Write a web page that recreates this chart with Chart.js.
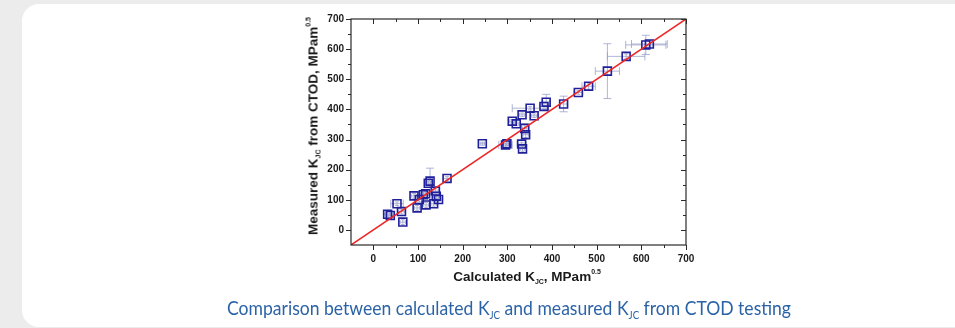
<!DOCTYPE html>
<html>
<head>
<meta charset="utf-8">
<script src="https://cdn.jsdelivr.net/npm/chart.js@4.4.1/dist/chart.umd.min.js"></script>
<style>
  html, body { margin: 0; padding: 0; }
  body { width: 955px; height: 328px; background: #ececec; position: relative; overflow: hidden; font-family: "Liberation Sans", Arial, sans-serif; }
  #card { position: absolute; left: 22px; top: 4px; width: 960px; height: 323px; background: #ffffff; border-radius: 17px; }
  #c { position: absolute; left: 0; top: 0; }
  .axt { position: absolute; font-weight: bold; font-size: 13.5px; color: #1a1a1a; white-space: nowrap; line-height: 1; }
  .axt sub { font-size: 7px; vertical-align: -3px; }
  .axt sup { font-size: 7px; vertical-align: 7px; }
  #ytitle { left: 313px; top: 126px; transform: translate(-50%, -50%) rotate(-90deg); }
  #xtitle { left: 527px; top: 276px; transform: translate(-50%, -50%); }
  #caption { position: absolute; left: 509px; top: 296px; font-family: Lato, "Liberation Sans", sans-serif; font-size: 20px; color: #2b63a6; white-space: nowrap; line-height: 22px; transform-origin: 0 0; }
  #caption sub { font-size: 11px; vertical-align: -4px; }
</style>
</head>
<body>
<div id="card"></div>
<canvas id="c" width="955" height="328"></canvas>
<div class="axt" id="ytitle">Measured K<sub>JC</sub> from CTOD, MPam<sup>0.5</sup></div>
<div class="axt" id="xtitle">Calculated K<sub>JC</sub>, MPam<sup>0.5</sup></div>
<div id="caption">Comparison between calculated K<sub>JC</sub> and measured K<sub>JC</sub> from CTOD testing</div>
<script>
// ---- data ----
const calculatedK = [32, 38, 53, 63, 66, 91, 98, 103, 112, 117, 118, 123, 127, 135, 139, 141, 146, 165,
                     244, 296, 299, 332, 334, 341, 339, 311, 320, 333, 351, 360, 382, 387, 426, 459, 482, 524, 566, 610, 618];
const measuredK   = [52, 48, 87, 61, 26, 113, 73, 101, 117, 120, 83, 155, 162, 87, 129, 112, 101, 171,
                     286, 282, 286, 285, 269, 316, 337, 361, 352, 382, 404, 379, 410, 424, 418, 456, 477, 527, 576, 614, 617];
const errCalc     = [6, 6, 14, 6, 6, 6, 6, 6, 6, 6, 6, 5, 5, 6, 6, 6, 6, 8,
                     5, 15, 8, 10, 5, 6, 5, 6, 6, 6, 40, 6, 10, 8, 8, 10, 15, 27, 42, 45, 40];
const errMeas     = [8, 6, 6, 8, 8, 8, 8, 8, 8, 8, 8, 8, 43, 8, 8, 8, 8, 6,
                     5, 6, 6, 6, 8, 10, 15, 6, 6, 6, 6, 6, 12, 26, 26, 6, 10, 91, 8, 32, 10];
const fitLineX = [-50, 700];
const fitLineY = [-50, 700];
const xTicks = [0, 100, 200, 300, 400, 500, 600, 700];
const yTicks = [0, 100, 200, 300, 400, 500, 600, 700];
const axisMin = -50, axisMax = 700;

const points = calculatedK.map((x, i) => ({ x: x, y: measuredK[i], ex: errCalc[i], ey: errMeas[i] }));
const linePts = fitLineX.map((x, i) => ({ x: x, y: fitLineY[i] }));

// fit caption to the reference's width (564px), centred at x=509
(function () {
  const cap = document.getElementById('caption');
  const w = cap.getBoundingClientRect().width;
  const s = 564 / w;
  cap.style.transform = 'translateX(' + (-564 / 2) + 'px) scaleX(' + s + ')';
})();

const errorBars = {
  id: 'errorBars',
  beforeDatasetsDraw(chart) {
    const { ctx, scales: { x, y } } = chart;
    ctx.save();
    ctx.strokeStyle = 'rgba(150,156,200,0.75)';
    ctx.lineWidth = 1;
    points.forEach(p => {
      const px = x.getPixelForValue(p.x), py = y.getPixelForValue(p.y);
      const x1 = x.getPixelForValue(p.x - p.ex), x2 = x.getPixelForValue(p.x + p.ex);
      const y1 = y.getPixelForValue(p.y - p.ey), y2 = y.getPixelForValue(p.y + p.ey);
      const capX = Math.min(4, Math.max(2, (x2 - x1) / 3));
      const capY = Math.min(4, Math.max(2, (y1 - y2) / 3));
      ctx.beginPath();
      ctx.moveTo(x1, py); ctx.lineTo(x2, py);
      ctx.moveTo(x1, py - capX); ctx.lineTo(x1, py + capX);
      ctx.moveTo(x2, py - capX); ctx.lineTo(x2, py + capX);
      ctx.moveTo(px, y1); ctx.lineTo(px, y2);
      ctx.moveTo(px - capY, y1); ctx.lineTo(px + capY, y1);
      ctx.moveTo(px - capY, y2); ctx.lineTo(px + capY, y2);
      ctx.stroke();
    });
    ctx.restore();
  }
};

const frameTicks = {
  id: 'frameTicks',
  afterDraw(chart) {
    const { ctx, chartArea: a, scales: { x, y } } = chart;
    ctx.save();
    ctx.strokeStyle = '#2a2a2a';
    ctx.lineWidth = 1.2;
    ctx.strokeRect(a.left, a.top, a.right - a.left, a.bottom - a.top);
    ctx.lineWidth = 1;
    const major = 5, minor = 3;
    ctx.beginPath();
    x.ticks.forEach(t => {
      const px = Math.round(x.getPixelForValue(t.value)) + 0.5;
      ctx.moveTo(px, a.bottom); ctx.lineTo(px, a.bottom + major);
      ctx.moveTo(px, a.top); ctx.lineTo(px, a.top + major);
      const mv = t.value + 50;
      if (mv < axisMax) {
        const mx = Math.round(x.getPixelForValue(mv)) + 0.5;
        ctx.moveTo(mx, a.bottom); ctx.lineTo(mx, a.bottom + minor);
        ctx.moveTo(mx, a.top); ctx.lineTo(mx, a.top + minor);
      }
    });
    y.ticks.forEach(t => {
      const py = Math.round(y.getPixelForValue(t.value)) + 0.5;
      ctx.moveTo(a.left, py); ctx.lineTo(a.left - major, py);
      ctx.moveTo(a.right, py); ctx.lineTo(a.right - major, py);
      const mv = t.value + 50;
      if (mv < axisMax) {
        const my = Math.round(y.getPixelForValue(mv)) + 0.5;
        ctx.moveTo(a.left, my); ctx.lineTo(a.left - minor, my);
        ctx.moveTo(a.right, my); ctx.lineTo(a.right - minor, my);
      }
    });
    ctx.stroke();
    ctx.restore();
  }
};

const tickFont = { family: '"Liberation Sans", Arial, sans-serif', size: 10, weight: 'bold' };

new Chart(document.getElementById('c'), {
  data: {
    datasets: [
      {
        type: 'line', data: linePts, borderColor: '#ee2626', borderWidth: 1.5,
        pointRadius: 0, fill: false, tension: 0
      },
      {
        type: 'scatter', data: points, pointStyle: 'rect', pointRadius: 5.6,
        pointBorderColor: '#20209a', pointBackgroundColor: 'rgba(0,0,0,0)', pointBorderWidth: 1.6
      }
    ]
  },
  options: {
    responsive: false,
    animation: false,
    devicePixelRatio: 1,
    layout: { padding: { left: 321, right: 269, top: 19, bottom: 63 } },
    plugins: { legend: { display: false }, tooltip: { enabled: false } },
    scales: {
      x: {
        type: 'linear', min: axisMin, max: axisMax,
        afterBuildTicks: s => { s.ticks = xTicks.map(v => ({ value: v })); },
        afterFit: s => { s.height = 20; },
        grid: { display: false, drawTicks: false },
        border: { display: false },
        ticks: { font: tickFont, color: '#1a1a1a', padding: 8, maxRotation: 0 }
      },
      y: {
        type: 'linear', min: axisMin, max: axisMax,
        afterBuildTicks: s => { s.ticks = yTicks.map(v => ({ value: v })); },
        afterFit: s => { s.width = 30; },
        grid: { display: false, drawTicks: false },
        border: { display: false },
        ticks: { font: tickFont, color: '#1a1a1a', padding: 7 }
      }
    }
  },
  plugins: [errorBars, frameTicks]
});
</script>
</body>
</html>
